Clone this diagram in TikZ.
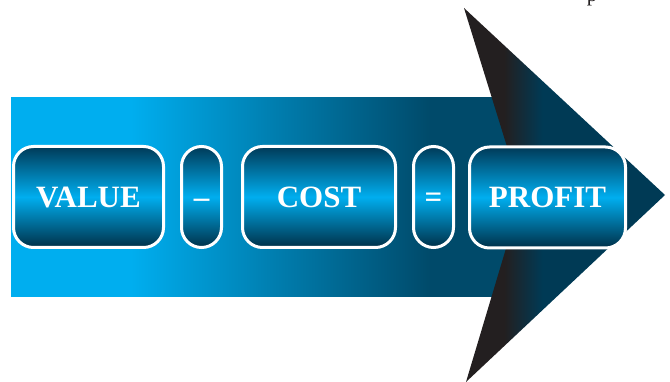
\documentclass[tikz,border=0pt]{standalone}
\usepackage{fontspec}
\setmainfont{Liberation Serif}
\definecolor{cy}{RGB}{0,174,239}
\definecolor{dkb}{RGB}{0,74,106}
\definecolor{blk}{RGB}{35,31,32}
\definecolor{dkt}{RGB}{0,58,85}
\definecolor{btop}{RGB}{0,58,88}
\definecolor{bbot}{RGB}{0,48,72}
\pgfdeclarehorizontalshading{shaftsh}{100bp}{color(0bp)=(cy); color(37bp)=(cy); color(67bp)=(dkb); color(100bp)=(dkb)}
\pgfdeclarehorizontalshading{headsh}{100bp}{color(0bp)=(blk); color(35bp)=(blk); color(44.5bp)=(dkt); color(100bp)=(dkt)}
\pgfdeclareverticalshading{boxsh}{100bp}{color(0bp)=(bbot); color(25bp)=(bbot); color(50bp)=(cy); color(75bp)=(btop); color(100bp)=(btop)}
\begin{document}
\begin{tikzpicture}[x=1pt,y=-1pt,
  termbox/.style={draw=white, line width=3pt, shading=boxsh, rounded corners=20pt,
    minimum height=101pt, inner sep=0pt, text=white,
    font=\fontsize{31}{31}\selectfont\bfseries, text height=21pt, text depth=0pt},
  bigbox/.style={termbox},
  pillbox/.style={termbox, minimum width=40pt}]
\useasboundingbox (0,0) rectangle (670,382);
% shaft
\shade[shading=shaftsh] (11,98) rectangle (510,297);
% arrow head
\shade[shading=headsh] (464,8) -- (665,195) -- (466,382) -- (522,195) -- cycle;
% boxes
\node[bigbox, minimum width=150pt] (value) at (88.5,197) {VALUE};
\node[pillbox] (minus) at (201.5,197) {–};
\node[bigbox, minimum width=153pt] (cost) at (319,197) {COST};
\node[pillbox] (equals) at (433.5,197) {=};
\node[bigbox, minimum width=156pt] (profit) at (547.5,197.5) {PROFIT};
% cut-off text at top
\node[anchor=base, inner sep=0pt, font=\fontsize{21}{21}\selectfont, text=blk] (ptext) at (592,1.5) {p};
\end{tikzpicture}
\end{document}
